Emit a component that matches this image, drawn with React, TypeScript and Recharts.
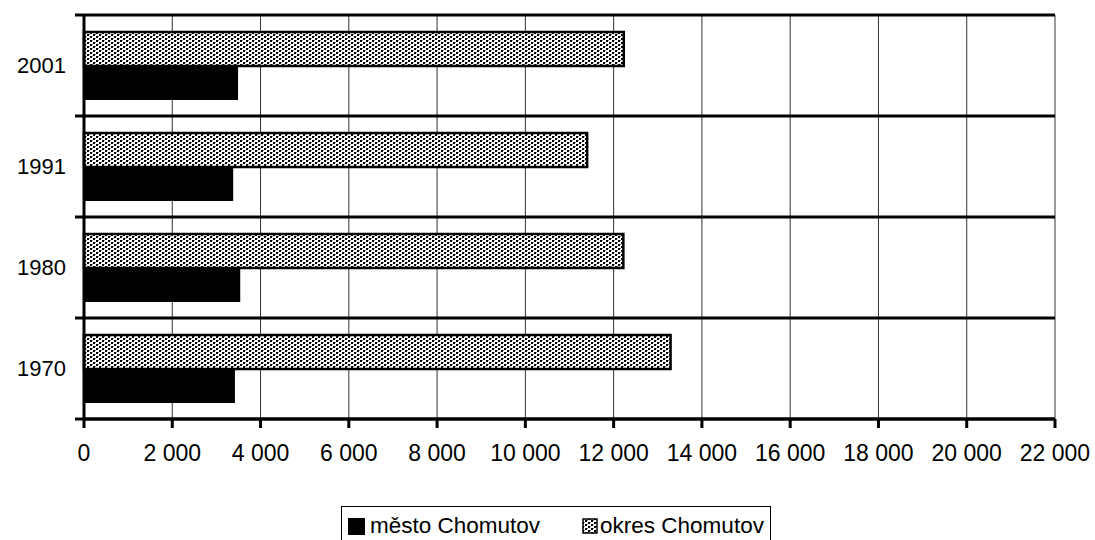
import React from 'react';
import { BarChart, Bar, XAxis, YAxis, CartesianGrid } from 'recharts';

const years = ['2001', '1991', '1980', '1970'];
const mestoChomutov = [3490, 3380, 3540, 3420];
const okresChomutov = [12230, 11400, 12220, 13290];
const xTicks = [0, 2000, 4000, 6000, 8000, 10000, 12000, 14000, 16000, 18000, 20000, 22000];

const data = years.map((y, i) => ({ year: y, mesto: mestoChomutov[i], okres: okresChomutov[i] }));

const FONT = '"Liberation Sans", Arial, sans-serif';
const fmt = (v: number) => String(v).replace(/\B(?=(\d{3})+(?!\d))/g, '\u00a0');

const CHART_W = 1095;
const MARGIN = { top: 15, right: 40, left: 0, bottom: 0 };
const Y_AXIS_W = 84;
const PLOT_W = CHART_W - MARGIN.left - MARGIN.right - Y_AXIS_W;
const TICK = 9;
const GAP = 9;

const YTick = (props: any) => {
  const { x, y, payload } = props;
  const off = payload && typeof payload.offset === 'number' && payload.offset > 0 ? payload.offset : 50.5;
  const ax = x + GAP + TICK;
  const bounds = [y - off];
  if (payload.value === years[years.length - 1]) bounds.push(y + off);
  return (
    <g>
      {bounds.map((b, i) => (
        <g key={i}>
          <line x1={ax - TICK} x2={ax} y1={b} y2={b} stroke="#000" strokeWidth={3} />
          <line x1={ax} x2={ax + PLOT_W} y1={b} y2={b} stroke="#000" strokeWidth={3} />
        </g>
      ))}
      <text x={x} y={y} dy="0.355em" textAnchor="end" fill="#000" fontSize={22} fontFamily={FONT}>
        {payload.value}
      </text>
    </g>
  );
};

export default function App() {
  return (
    <div style={{ position: 'absolute', left: 0, top: 0, width: 1095, height: 540, background: '#fff', fontFamily: FONT }}>
      <svg width={0} height={0} style={{ position: 'absolute' }}>
        <defs>
          <pattern id="dots" patternUnits="userSpaceOnUse" width={6} height={4}>
            <rect x={0} y={0} width={6} height={4} fill="#fff" />
            <rect x={0} y={0} width={2} height={2} fill="#000" />
            <rect x={3} y={2} width={2} height={2} fill="#000" />
            <rect x={2} y={0} width={1} height={1} fill="#888" />
            <rect x={5} y={2} width={1} height={1} fill="#888" />
          </pattern>
        </defs>
      </svg>
      <BarChart
        width={CHART_W}
        height={470}
        data={data}
        layout="vertical"
        margin={MARGIN}
        barGap={0}
        barSize={34}
      >
        <CartesianGrid horizontal={false} stroke="#333" strokeWidth={1} />
        <XAxis
          type="number"
          domain={[0, 22000]}
          ticks={xTicks}
          tickFormatter={fmt}
          interval={0}
          height={51}
          axisLine={{ stroke: '#000', strokeWidth: 3 }}
          tickLine={{ stroke: '#000', strokeWidth: 3 }}
          tickSize={9}
          tickMargin={17}
          tick={{ fill: '#000', fontSize: 23, fontFamily: FONT }}
        />
        <YAxis
          type="category"
          dataKey="year"
          width={Y_AXIS_W}
          axisLine={{ stroke: '#000', strokeWidth: 3 }}
          tickLine={false}
          tickSize={0}
          tickMargin={GAP + TICK}
          interval={0}
          tick={YTick}
        />
        <Bar dataKey="okres" name="okres Chomutov" fill="url(#dots)" stroke="#000" strokeWidth={2.5} isAnimationActive={false} />
        <Bar dataKey="mesto" name="město Chomutov" fill="#000" isAnimationActive={false} />
      </BarChart>
      <div
        style={{
          position: 'absolute',
          left: 341,
          top: 506,
          height: 40,
          border: '1px solid #000',
          boxSizing: 'border-box',
          display: 'flex',
          alignItems: 'center',
          padding: '0 6px',
          fontSize: 22.5,
          whiteSpace: 'nowrap',
          color: '#000',
        }}
      >
        <span style={{ display: 'inline-block', width: 17, height: 17, background: '#000', marginRight: 5 }} />
        <span>město Chomutov</span>
        <svg width={16} height={16} style={{ marginLeft: 42, marginRight: 2 }}>
          <rect x={1} y={1} width={14} height={14} fill="url(#dots)" stroke="#000" strokeWidth={1.5} />
        </svg>
        <span>okres Chomutov</span>
      </div>
    </div>
  );
}
